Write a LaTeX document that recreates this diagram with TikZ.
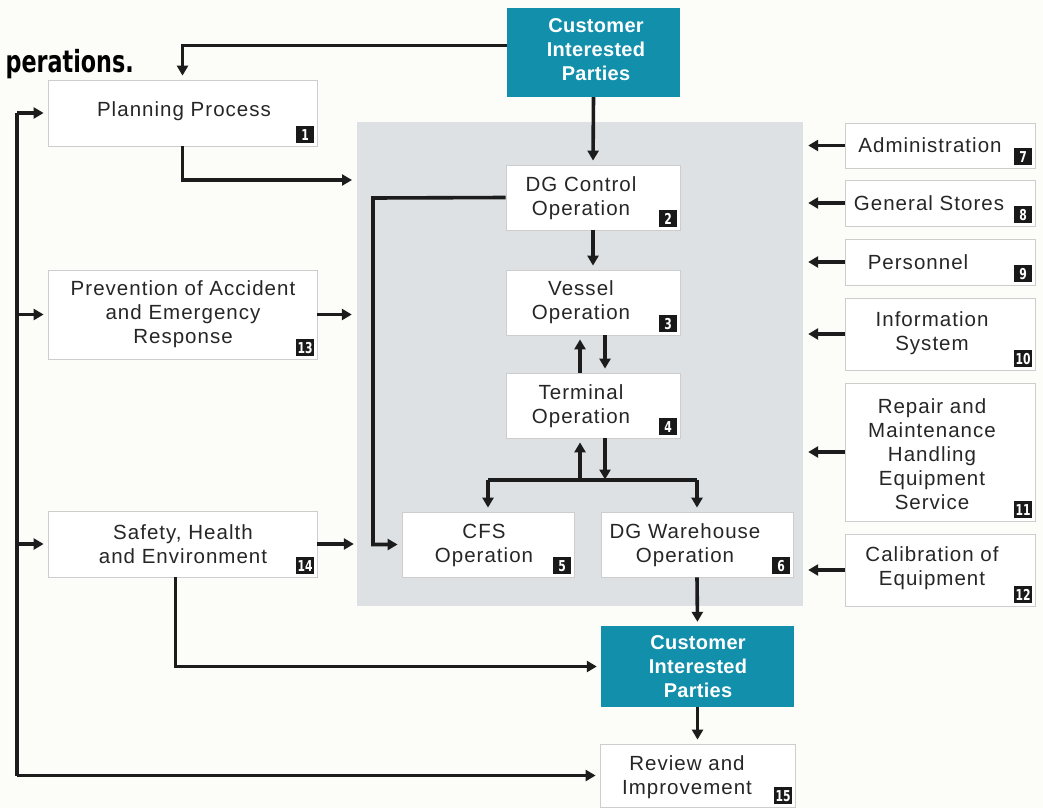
\documentclass[tikz,border=0pt]{standalone}
\usepackage{fontspec}
\setmainfont{Liberation Sans}[LetterSpace=5]
\newfontfamily\titlefont{DejaVu Sans}[FakeStretch=0.73]
\newfontfamily\badgefont{DejaVu Sans}[FakeStretch=0.72]
\usetikzlibrary{arrows.meta}
\definecolor{bgcol}{RGB}{252,252,248}
\definecolor{linecol}{RGB}{28,28,28}
\definecolor{boxgray}{RGB}{205,205,205}
\definecolor{txtcol}{RGB}{38,38,38}
\definecolor{tealbox}{RGB}{17,143,171}
\definecolor{grayreg}{RGB}{221,225,227}
\tikzset{
  box/.style={draw=boxgray, line width=0.8pt, fill=white, inner sep=0pt},
  cbox/.style={draw=none, fill=tealbox, inner sep=0pt},
  region/.style={draw=none, fill=grayreg, inner sep=0pt},
  badge/.style={fill=black!90, text=white, minimum width=18pt, minimum height=17pt, inner sep=0pt,
    font=\badgefont\bfseries\fontsize{15}{15}\selectfont},
  txt/.style={align=center, text=txtcol, inner sep=0pt, font=\fontsize{20.5}{24}\selectfont},
  ctxt/.style={align=center, text=white, inner sep=0pt, font=\bfseries\addfontfeatures{LetterSpace=1.5}\fontsize{20}{24}\selectfont},
  conn/.style={line width=3.6pt, draw=linecol},
  arr/.style={conn, -{Triangle[length=10pt,width=11pt]}, shorten >=4pt},
}
\newcommand\mybox[6]{%
  \node[box, minimum width=#4pt, minimum height=#5pt] (#1) at (#2,#3) {};
  \node[badge, anchor=south east] (#1b) at ([xshift=-3pt,yshift=3pt]#1.south east) {#6};}
\begin{document}
\begin{tikzpicture}[x=1pt, y=-1pt]
\useasboundingbox (0,0) rectangle (1043,808);
\fill[bgcol] (0,0) rectangle (1043,808);
% title fragment
\node[anchor=base east, inner sep=0pt, text=black, font=\titlefont\bfseries\fontsize{30.5}{33}\selectfont] (title) at (134,72) {perations.};
% grey operations region
\node[region, minimum width=446pt, minimum height=484pt] (ops) at (580,364) {};
% teal boxes
\node[cbox, minimum width=173pt, minimum height=89pt] (cust1) at (593.5,52.5) {};
\node[cbox, minimum width=193pt, minimum height=81pt] (cust2) at (697.5,666.5) {};
\node[ctxt] (tc1) at (596,50) {Customer\\Interested\\Parties};
\node[ctxt] (tc2) at (698,667) {Customer\\Interested\\Parties};
% boxes
\mybox{n1}{182.5}{113}{269}{66}{1}
\mybox{n2}{593}{197.5}{174}{65}{2}
\mybox{n3}{593}{302.5}{174}{65}{3}
\mybox{n4}{593}{405.5}{174}{65}{4}
\mybox{n5}{488}{544.5}{172}{65}{5}
\mybox{n6}{697}{544.5}{192}{65}{6}
\mybox{n7}{940}{145.5}{190}{45}{7}
\mybox{n8}{940}{203}{190}{46}{8}
\mybox{n9}{940}{262}{190}{46}{9}
\mybox{n10}{940}{334}{190}{72}{10}
\mybox{n11}{940}{452}{190}{138}{11}
\mybox{n12}{940}{570}{190}{72}{12}
\mybox{n13}{182.5}{314.5}{269}{89}{13}
\mybox{n14}{182.5}{544}{269}{66}{14}
\mybox{n15}{697.5}{775.5}{195}{63}{15}
% texts
\node[txt] (t1) at (184,111) {Planning Process};
\node[txt] (t2) at (581,198) {DG Control\\Operation};
\node[txt] (t3) at (581,302) {Vessel\\Operation};
\node[txt] (t4) at (581,406) {Terminal\\Operation};
\node[txt] (t5) at (484,545) {CFS\\Operation};
\node[txt] (t6) at (685,545) {DG Warehouse\\Operation};
\node[txt] (t7) at (930,145) {Administration};
\node[txt] (t8) at (929,203) {General Stores};
\node[txt] (t9) at (918,262) {Personnel};
\node[txt] (t10) at (932,333) {Information\\System};
\node[txt] (t11) at (932,454) {Repair and\\Maintenance\\Handling\\Equipment\\Service};
\node[txt] (t12) at (932,568) {Calibration of\\Equipment};
\node[txt] (t13) at (183,314) {Prevention of Accident\\and Emergency\\Response};
\node[txt] (t14) at (183,544) {Safety, Health\\and Environment};
\node[txt] (t15) at (687,777) {Review and\\Improvement};
% helper coordinates
\coordinate (pp) at (357,180);
\coordinate (lp) at (373,198);
\coordinate (bus) at (0,480);
\coordinate (L) at (17,0);
% connectors
\draw[arr] ([yshift=7pt]cust1.west) -| (n1.north);
\draw[arr] (cust1.south) -- (n2.north);
\draw[arr, shorten >=5pt] (n1.south) |- (pp);
\draw[arr, shorten >=5pt] (n13.east) -- (n13.east -| ops.west);
\draw[arr, shorten >=3pt] (n14.east) -- (n14.east -| ops.west);
\draw[arr] (n2.west) -- (lp) |- (n5.west);
\draw[arr] (n2.south) -- (n3.north);
\draw[arr] ([xshift=-13pt]n4.north) -- ([xshift=-13pt]n3.south);
\draw[arr] ([xshift=12pt]n3.south) -- ([xshift=12pt]n4.north);
\draw[conn] (n5.north |- bus) -- (n6.north |- bus);
\draw[arr] ([xshift=-13pt]n4.south |- bus) -- ([xshift=-13pt]n4.south);
\draw[arr, shorten >=0.5pt] ([xshift=12pt]n4.south) -- ([xshift=12pt]n4.south |- bus);
\draw[arr] (n5.north |- bus) -- (n5.north);
\draw[arr] (n6.north |- bus) -- (n6.north);
\draw[arr] (n6.south) -- (cust2.north);
\draw[arr] ([xshift=-7pt]n14.south) |- (cust2.west);
\draw[arr] (cust2.south) -- (n15.north);
\foreach \n in {n7,n8,n9,n10,n11,n12}
  \draw[arr, shorten >=5pt] (\n.west) -- (\n.west -| ops.east);
\draw[conn] (L |- n1.west) -- (L |- n15.west);
\foreach \n in {n1,n13,n14,n15}
  \draw[arr] (L |- \n.west) -- (\n.west);
\end{tikzpicture}
\end{document}
